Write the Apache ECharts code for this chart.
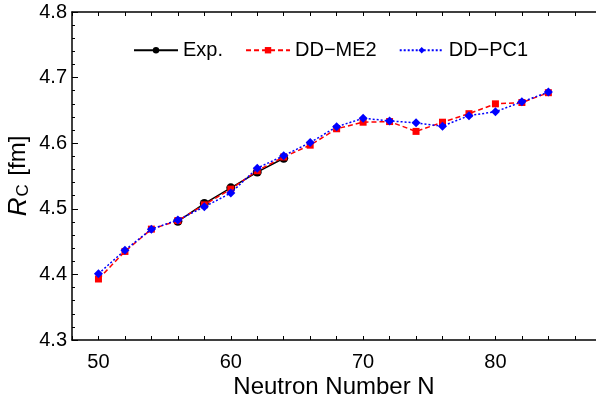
<html>
<head>
    <script src="https://cdn.jsdelivr.net/npm/echarts@6.0.0/dist/echarts.min.js"></script>
    <style>
        body { margin: 0 }
        #chart { width: 596px; height: 403px; }
    </style>
</head>
<body>
    <div id="chart"></div>
    <script>
        const neutrons = [50, 52, 54, 56, 58, 60, 62, 64, 66, 68, 70, 72, 74, 76, 78, 80, 82, 84];
        const expN = [56, 58, 60, 62, 64];
        const expR = [4.481, 4.508, 4.532, 4.556, 4.577];
        const ddme2 = [4.393, 4.435, 4.469, 4.482, 4.506, 4.530, 4.558, 4.579, 4.597, 4.622,
                       4.632, 4.633, 4.618, 4.632, 4.645, 4.660, 4.662, 4.677];
        const ddpc1 = [4.401, 4.437, 4.469, 4.483, 4.503, 4.524, 4.562, 4.581, 4.601, 4.625,
                       4.638, 4.634, 4.631, 4.626, 4.642, 4.648, 4.663, 4.678];

        const font = 'Liberation Sans, Arial, sans-serif';
        const zip = (xs, ys) => xs.map((x, i) => [x, ys[i]]);

        const chart = echarts.init(document.getElementById('chart'));

        const option = {
            animation: false,
            textStyle: { fontFamily: font },
            grid: { left: 72, right: 0, top: 12, bottom: 63, outerBoundsMode: 'none', containLabel: false },
            legend: {
                top: 28,
                left: 128,
                itemWidth: 44,
                itemHeight: 8,
                itemGap: 22,
                textStyle: { fontSize: 20, color: '#000', fontFamily: font },
                data: ['Exp.', 'DD\u2212ME2', 'DD\u2212PC1']
            },
            xAxis: [{
                type: 'value',
                min: 48,
                max: 87.6,
                interval: 2,
                name: 'Neutron Number N',
                nameLocation: 'middle',
                nameGap: 27,
                nameMoveOverlap: false,
                nameTextStyle: { fontSize: 24, color: '#000', fontFamily: font, verticalAlign: 'top' },
                axisLine: { lineStyle: { color: '#000', width: 1.5 } },
                axisTick: { inside: true, length: 4, lineStyle: { color: '#000' } },
                axisLabel: {
                    fontSize: 20, color: '#000', margin: 5, showMaxLabel: false,
                    formatter: v => (v % 10 === 0 ? String(v) : '')
                },
                splitLine: { show: false }
            }, {
                type: 'value',
                position: 'top',
                min: 48,
                max: 87.6,
                interval: 2,
                axisLine: { show: true, lineStyle: { color: '#000', width: 1.5 } },
                axisTick: { inside: true, length: 4, lineStyle: { color: '#000' } },
                axisLabel: { show: false },
                splitLine: { show: false }
            }],
            yAxis: {
                type: 'value',
                min: 4.3,
                max: 4.8,
                interval: 0.1,
                name: '{i|R}{s|C} [fm]',
                nameLocation: 'middle',
                nameRotate: 90,
                nameGap: 31,
                nameMoveOverlap: false,
                nameTextStyle: {
                    fontSize: 24, color: '#000', fontFamily: font,
                    rich: {
                        i: { fontSize: 26, fontStyle: 'italic', color: '#000', fontFamily: font },
                        s: { fontSize: 17, color: '#000', fontFamily: font, padding: [10, 2, 0, 1] }
                    }
                },
                axisLine: { show: true, lineStyle: { color: '#000', width: 1.5 } },
                axisTick: { inside: true, length: 6, lineStyle: { color: '#000' } },
                minorTick: { show: true, splitNumber: 5, length: 3, lineStyle: { color: '#000' } },
                axisLabel: {
                    fontSize: 20, color: '#000', margin: 5,
                    formatter: v => v.toFixed(1)
                },
                splitLine: { show: false }
            },
            series: [{
                name: 'Exp.',
                type: 'line',
                data: zip(expN, expR),
                symbol: 'circle',
                symbolSize: 9,
                itemStyle: { color: '#000' },
                lineStyle: { color: '#000', width: 1.5 },
                z: 2
            }, {
                name: 'DD\u2212ME2',
                type: 'line',
                data: zip(neutrons, ddme2),
                symbol: 'rect',
                symbolSize: 7,
                itemStyle: { color: '#ff0000' },
                lineStyle: { color: '#ff0000', width: 1.5, type: [5, 3] },
                z: 3
            }, {
                name: 'DD\u2212PC1',
                type: 'line',
                data: zip(neutrons, ddpc1),
                symbol: 'diamond',
                symbolSize: 9,
                itemStyle: { color: '#0000ff' },
                lineStyle: { color: '#0000ff', width: 1.5, type: [2, 2] },
                z: 4
            }]
        };

        chart.setOption(option);
    </script>
</body>
</html>
